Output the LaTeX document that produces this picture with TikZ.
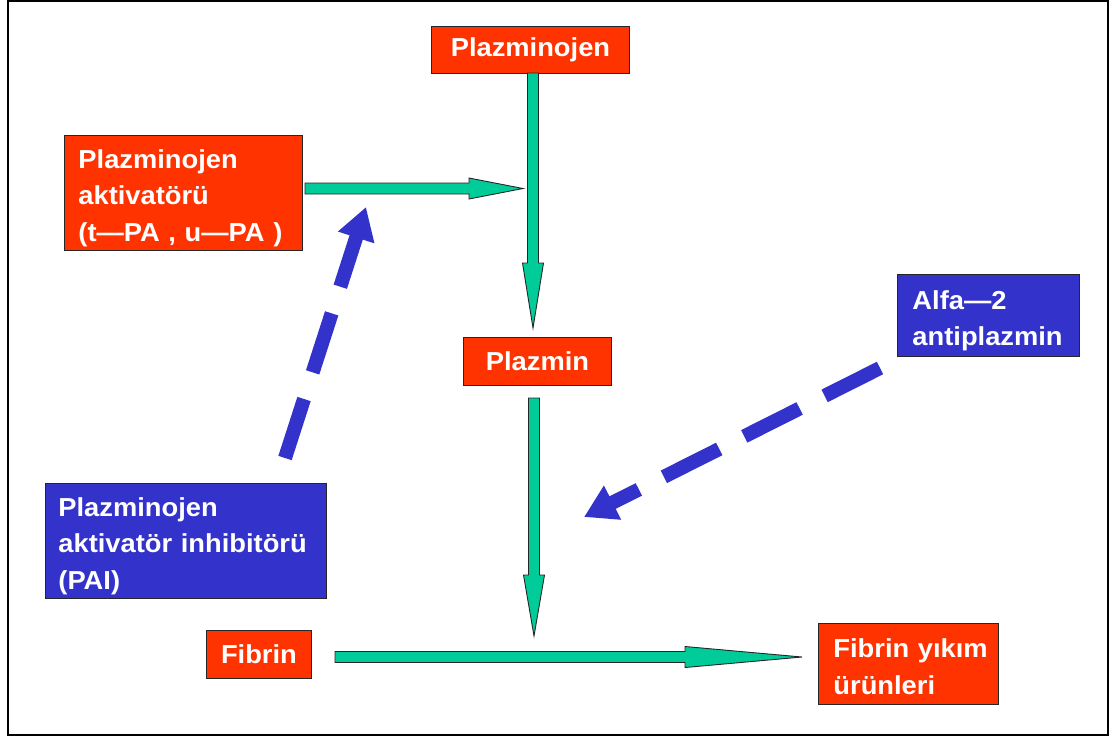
\documentclass[tikz,border=0pt]{standalone}
\usepackage{fontspec}
\newfontfamily\lbl[FakeStretch=1.05]{Liberation Sans}
\usetikzlibrary{arrows.meta,calc}
\definecolor{bred}{HTML}{FF3300}
\definecolor{bblue}{HTML}{3333CC}
\definecolor{bgreen}{HTML}{00CC99}
\newcommand\blockarrow[3]{%
  \coordinate (hb) at ($(#2)!#3!(#1)$);
  \draw[blk] ($(#1)!5.5pt!90:(#2)$) -- ($(hb)!5.5pt!-90:(#1)$) -- ($(hb)!10.5pt!-90:(#1)$) -- (#2)
    -- ($(hb)!10.5pt!90:(#1)$) -- ($(hb)!5.5pt!90:(#1)$) -- ($(#1)!5.5pt!-90:(#2)$) -- cycle;}
\newcommand\topstrut{\rule{0pt}{29pt}}
\tikzset{
  box/.style={draw=black!85, line width=0.9pt, text=white,
    font=\lbl\bfseries\fontsize{26}{36.5}\selectfont, anchor=north west, inner ysep=0pt},
  redbox/.style={box, fill=bred},
  bluebox/.style={box, fill=bblue},
  blk/.style={draw=black!85, line width=0.9pt, fill=bgreen, line join=miter},
  dasharrow/.style={draw=bblue, line width=14pt, dash pattern=on 62pt off 28pt,
    -{Triangle[length=32pt,width=36pt]}},
}
\begin{document}
\begin{tikzpicture}[x=1pt,y=-1pt]
\useasboundingbox (0,0) rectangle (1115,740);
\draw[line width=2pt] (8,1) rectangle (1108,735);
% boxes
\node[redbox, minimum width=198pt, minimum height=47pt, inner xsep=0pt] (pzj) at (431,26) {Plazminojen};
\node[redbox, minimum height=115pt, inner xsep=14pt, text width=210pt, align=left] (pa) at (64,135)
  {\topstrut Plazminojen\\aktivatörü\\(t—PA~,~u—PA~)};
\node[redbox, minimum width=148pt, minimum height=48pt, inner xsep=0pt] (pzm) at (463,337) {Plazmin};
\node[bluebox, minimum height=115pt, inner xsep=13pt, text width=255pt, align=left] (pai) at (45,483)
  {\topstrut Plazminojen\\aktivatör~inhibitörü\\(PAI)};
\node[bluebox, minimum height=82pt, inner xsep=15pt, text width=152pt, align=left] (alfa) at (897,274)
  {\topstrut Alfa—2\\antiplazmin};
\node[redbox, minimum width=105pt, minimum height=48pt, inner xsep=0pt] (fib) at (206,630) {Fibrin};
\node[redbox, minimum height=81pt, inner xsep=15pt, text width=150pt, align=left] (fyu) at (818,623)
  {\rule{0pt}{24pt}Fibrin~yıkım\\ürünleri};
% block arrows
\coordinate (a1s) at (533,73);  \coordinate (a1e) at (533,328);
\coordinate (a2s) at (305,188.5); \coordinate (a2e) at (523,188.5);
\coordinate (a3s) at (534,398); \coordinate (a3e) at (534,636);
\coordinate (a4s) at (335,657); \coordinate (a4e) at (802,657);
\blockarrow{a1s}{a1e}{65pt}
\blockarrow{a2s}{a2e}{54pt}
\blockarrow{a3s}{a3e}{61pt}
\blockarrow{a4s}{a4e}{117pt}
% dashed inhibitor arrows
\coordinate (d1s) at (285,458); \coordinate (d1e) at (366,207);
\coordinate (d2s) at (880,368); \coordinate (d2e) at (584,517);
\draw[dasharrow] (d1s) -- (d1e);
\draw[dasharrow] (d2s) -- (d2e);
\end{tikzpicture}
\end{document}
